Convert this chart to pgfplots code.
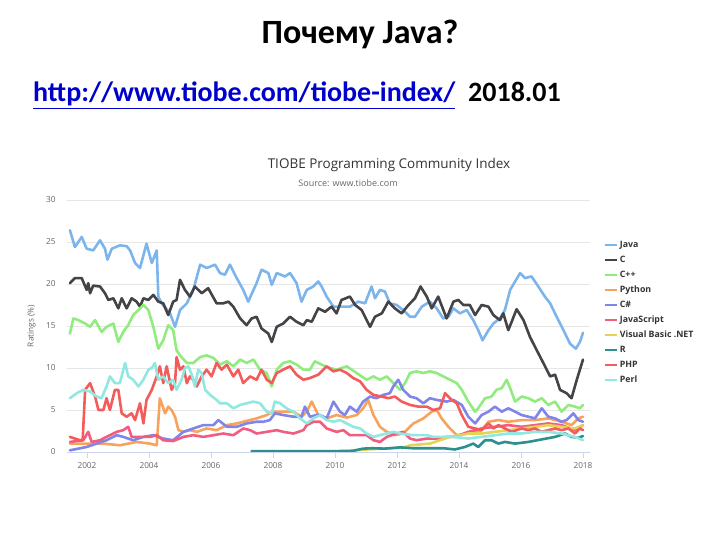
\documentclass[border=0pt]{standalone}
\usepackage{fontspec}
\setmainfont{Carlito}
\newfontfamily\chartfont{Open Sans}
\usepackage{pgfplots}
\pgfplotsset{compat=1.18}

\definecolor{javac}{HTML}{7CB5EC}
\definecolor{cc}{HTML}{434348}
\definecolor{cppc}{HTML}{90ED7D}
\definecolor{pyc}{HTML}{F7A35C}
\definecolor{csc}{HTML}{8085E9}
\definecolor{jsc}{HTML}{F15C80}
\definecolor{vbc}{HTML}{E4D354}
\definecolor{rc}{HTML}{2B908F}
\definecolor{phpc}{HTML}{F45B5B}
\definecolor{perlc}{HTML}{91E8E1}
\definecolor{gridc}{HTML}{E6E6E6}
\definecolor{axisc}{HTML}{CCD6EB}
\definecolor{darktext}{HTML}{333333}
\definecolor{greytext}{HTML}{666666}
\definecolor{linkblue}{HTML}{0000CC}

\begin{document}
\begin{tikzpicture}[x=1pt,y=1pt]
\path[use as bounding box] (0,0) rectangle (720,540);

% slide text
\node[anchor=base, inner sep=0, font=\bfseries\fontsize{34}{40}\selectfont] at (360,496) {Почему Java?};
\node[anchor=base west, inner sep=0, font=\bfseries\fontsize{28}{34}\selectfont, text=linkblue] at (33,438) {\underline{http://www.tiobe.com/tiobe-index/}};
\node[anchor=base west, inner sep=0, font=\bfseries\fontsize{28}{34}\selectfont] at (468,438) {2018.01};

% chart titles
\node[font=\chartfont\fontsize{13.5}{16}\selectfont, text=darktext] at (389,375) {TIOBE Programming Community Index};
\node[font=\chartfont\fontsize{9}{11}\selectfont, text=greytext] at (348,357) {Source: www.tiobe.com};

\begin{axis}[
    at={(67pt,88pt)}, anchor=south west,
    scale only axis, width=523pt, height=252pt,
    xmin=2001.355, xmax=2018.226,
    ymin=0, ymax=30,
    axis x line*=bottom, axis y line*=left,
    x axis line style={draw=axisc, line width=0.8pt, -},
    y axis line style={draw=none},
    xtick={2002,2004,...,2018},
    xticklabels={2002,2004,2006,2008,2010,2012,2014,2016,2018},
    ytick={0,5,...,30},
    yticklabels={0,5,10,15,20,25,30},
    tick align=outside,
    major tick length=6pt,
    xtick style={draw=axisc, line width=0.8pt},
    ytick style={draw=none},
    ymajorgrids,
    grid style={draw=gridc, line width=0.8pt},
    /pgf/number format/assume math mode=true,
    ticklabel style={font=\chartfont\fontsize{8.25}{10}\selectfont, text=greytext},
    xticklabel style={yshift=-1pt},
    yticklabel style={xshift=-2pt},
    ylabel={Ratings (\%)},
    ylabel style={at={(axis description cs:-0.0675,0.5)}, anchor=center,
        font=\chartfont\fontsize{8.25}{10}\selectfont, text=greytext},
    every axis plot/.append style={line width=2.6pt, line join=round, line cap=round, no markers},
    legend cell align=left,
    legend image code/.code={\draw[#1, line cap=butt] (0pt,0pt) -- (12pt,0pt);},
    legend style={at={(1.025,0.845)}, anchor=north west, draw=none, fill=none,
        font=\chartfont\bfseries\fontsize{8.8}{11}\selectfont, text=darktext,
        row sep=3pt, inner sep=0pt},
]

% Java
\addplot[javac] coordinates {
(2001.45,26.4)(2001.61,24.4)(2001.83,25.6)(2001.99,24.2)(2002.20,24.0)(2002.42,25.2)
(2002.58,24.2)(2002.66,22.9)(2002.80,24.2)(2003.06,24.6)(2003.28,24.5)(2003.39,24.0)
(2003.55,22.5)(2003.71,21.9)(2003.92,24.8)(2004.09,22.5)(2004.25,24.0)(2004.30,18.5)
(2004.41,17.7)(2004.68,16.5)(2004.84,14.9)(2005.00,16.9)(2005.22,17.7)(2005.43,19.3)
(2005.65,22.3)(2005.86,21.9)(2006.13,22.3)(2006.29,21.3)(2006.45,21.1)(2006.61,22.3)
(2006.83,20.7)(2007.04,19.3)(2007.20,17.9)(2007.47,20.1)(2007.63,21.7)(2007.85,21.3)
(2007.96,19.9)(2008.12,21.3)(2008.39,20.9)(2008.55,21.3)(2008.76,20.1)(2008.92,17.9)
(2009.09,19.3)(2009.30,19.7)(2009.46,20.3)(2009.57,19.7)(2009.73,18.5)(2009.95,17.3)
(2010.16,17.3)(2010.48,17.3)(2010.75,17.9)(2010.97,17.7)(2011.18,19.7)(2011.29,18.3)
(2011.45,19.3)(2011.61,19.1)(2011.77,17.7)(2011.99,17.5)(2012.20,16.9)(2012.42,16.1)
(2012.58,16.1)(2012.80,17.3)(2013.06,17.9)(2013.28,17.1)(2013.49,15.9)(2013.66,16.1)
(2013.82,17.1)(2014.03,16.5)(2014.25,16.9)(2014.46,15.7)(2014.62,14.5)(2014.76,13.3)
(2014.95,14.5)(2015.11,15.3)(2015.32,15.9)(2015.48,16.9)(2015.65,19.3)(2015.81,20.3)
(2015.97,21.3)(2016.13,20.7)(2016.34,20.9)(2016.56,19.7)(2016.77,18.5)(2016.94,17.7)
(2017.15,16.1)(2017.37,14.5)(2017.58,12.9)(2017.77,12.3)(2017.90,13.1)(2018.00,14.2)
};
\addlegendentry{Java}

% C
\addplot[cc] coordinates {
(2001.45,20.1)(2001.61,20.7)(2001.83,20.7)(2001.99,19.3)(2002.04,20.1)(2002.10,18.9)
(2002.20,19.8)(2002.42,19.7)(2002.58,18.9)(2002.69,18.1)(2002.85,18.3)(2003.01,17.1)
(2003.12,18.3)(2003.28,17.1)(2003.44,18.3)(2003.60,17.9)(2003.71,17.3)(2003.82,18.3)
(2003.98,18.1)(2004.14,18.7)(2004.30,17.9)(2004.46,17.7)(2004.62,16.3)(2004.78,17.9)
(2004.89,18.1)(2005.00,20.5)(2005.16,19.3)(2005.32,18.5)(2005.48,19.7)(2005.70,18.9)
(2005.91,19.5)(2006.18,17.7)(2006.40,17.7)(2006.56,17.9)(2006.72,17.3)(2006.94,15.9)
(2007.15,15.1)(2007.31,15.9)(2007.47,16.1)(2007.63,14.7)(2007.85,14.1)(2007.96,13.1)
(2008.12,14.9)(2008.33,15.3)(2008.55,16.1)(2008.76,15.5)(2008.98,15.1)(2009.09,15.7)
(2009.25,15.5)(2009.46,17.1)(2009.68,16.7)(2009.89,17.3)(2010.05,16.5)(2010.21,18.1)
(2010.48,18.5)(2010.65,17.5)(2010.86,16.9)(2011.13,14.9)(2011.29,16.1)(2011.51,16.5)
(2011.72,17.9)(2011.93,17.1)(2012.15,16.5)(2012.37,17.5)(2012.58,18.3)(2012.76,19.7)
(2012.96,18.5)(2013.12,17.1)(2013.33,18.5)(2013.60,15.9)(2013.82,17.9)(2013.98,18.1)
(2014.14,17.5)(2014.35,17.5)(2014.52,16.3)(2014.73,17.5)(2014.95,17.3)(2015.11,16.3)
(2015.32,15.7)(2015.43,16.5)(2015.59,14.5)(2015.86,17.0)(2016.08,15.7)(2016.29,13.7)
(2016.51,12.1)(2016.72,10.6)(2016.94,9.0)(2017.10,9.2)(2017.26,7.4)(2017.47,7.0)
(2017.63,6.4)(2017.80,8.6)(2018.00,11.0)
};
\addlegendentry{C}

% C++
\addplot[cppc] coordinates {
(2001.45,14.1)(2001.56,15.9)(2001.72,15.7)(2001.94,15.3)(2002.10,14.9)(2002.26,15.7)
(2002.47,14.3)(2002.63,14.9)(2002.85,15.3)(2003.01,13.1)(2003.17,14.3)(2003.33,15.1)
(2003.49,16.3)(2003.66,16.9)(2003.82,17.5)(2003.98,16.9)(2004.14,14.9)(2004.30,12.3)
(2004.46,13.3)(2004.62,15.1)(2004.78,14.5)(2004.89,12.1)(2005.00,11.5)(2005.22,10.6)
(2005.43,10.6)(2005.65,11.3)(2005.86,11.5)(2006.08,11.2)(2006.29,10.4)(2006.51,10.8)
(2006.72,10.2)(2006.94,11.0)(2007.15,10.6)(2007.37,11.0)(2007.58,9.8)(2007.80,9.4)
(2007.96,7.8)(2008.12,9.8)(2008.33,10.6)(2008.55,10.8)(2008.76,10.4)(2008.98,9.8)
(2009.19,9.8)(2009.35,10.8)(2009.57,10.4)(2009.84,10.0)(2010.05,9.8)(2010.38,10.2)
(2010.70,9.4)(2011.02,8.6)(2011.24,9.0)(2011.45,8.6)(2011.67,9.0)(2011.88,8.2)
(2012.10,7.4)(2012.26,8.2)(2012.42,9.4)(2012.63,9.6)(2012.85,9.4)(2013.06,9.6)
(2013.28,9.4)(2013.49,9.0)(2013.71,8.6)(2013.93,8.2)(2014.09,7.4)(2014.30,6.0)
(2014.52,4.8)(2014.62,5.2)(2014.84,6.4)(2015.05,6.6)(2015.21,7.4)(2015.38,7.6)
(2015.54,8.6)(2015.65,7.6)(2015.81,6.0)(2016.02,6.6)(2016.24,6.4)(2016.45,6.0)
(2016.67,6.4)(2016.88,5.6)(2017.10,6.0)(2017.31,4.8)(2017.53,5.6)(2017.74,5.4)
(2017.90,5.2)(2018.00,5.6)
};
\addlegendentry{C++}

% Python
\addplot[pyc] coordinates {
(2001.45,1.0)(2001.99,1.0)(2002.53,1.0)(2003.06,0.8)(2003.60,1.2)(2004.03,1.0)
(2004.25,0.8)(2004.35,6.4)(2004.52,4.6)(2004.62,5.4)(2004.73,5.0)(2004.84,4.2)
(2004.95,2.6)(2005.11,2.4)(2005.32,2.6)(2005.54,2.4)(2005.86,2.8)(2006.18,2.6)
(2006.51,3.2)(2006.83,3.4)(2007.15,3.7)(2007.47,4.0)(2007.80,4.4)(2008.01,4.8)
(2008.33,4.8)(2008.66,4.8)(2008.92,4.2)(2009.09,4.8)(2009.25,6.0)(2009.46,4.4)
(2009.73,4.0)(2010.05,4.4)(2010.38,4.1)(2010.70,4.4)(2010.91,5.2)(2011.07,6.2)
(2011.24,4.4)(2011.45,3.0)(2011.67,2.4)(2011.93,2.0)(2012.20,2.2)(2012.53,3.4)
(2012.85,4.0)(2013.12,4.8)(2013.28,5.0)(2013.44,4.0)(2013.66,3.0)(2013.93,2.0)
(2014.30,2.2)(2014.73,2.6)(2014.95,3.6)(2015.27,3.8)(2015.59,3.6)(2016.02,3.8)
(2016.45,3.8)(2016.88,4.0)(2017.31,3.6)(2017.63,3.2)(2017.85,4.0)(2018.00,4.2)
};
\addlegendentry{Python}

% C#
\addplot[csc] coordinates {
(2001.45,0.2)(2001.99,0.6)(2002.31,1.0)(2002.63,1.4)(2002.96,2.0)(2003.17,1.8)
(2003.49,1.4)(2003.82,1.8)(2004.14,2.0)(2004.46,1.6)(2004.78,1.4)(2005.11,2.4)
(2005.43,2.8)(2005.75,3.2)(2006.08,3.2)(2006.24,3.8)(2006.51,3.0)(2006.83,3.0)
(2007.15,3.4)(2007.47,3.6)(2007.69,3.6)(2007.90,3.8)(2008.06,4.6)(2008.33,4.4)
(2008.66,4.2)(2008.92,4.2)(2009.03,5.4)(2009.19,4.2)(2009.41,4.4)(2009.52,4.4)
(2009.73,4.0)(2009.95,6.0)(2010.16,4.8)(2010.32,4.4)(2010.48,5.4)(2010.70,4.8)
(2010.91,6.0)(2011.13,6.6)(2011.34,6.4)(2011.56,6.8)(2011.77,7.0)(2011.88,7.8)
(2012.04,8.6)(2012.20,7.4)(2012.42,6.6)(2012.63,6.4)(2012.85,5.8)(2013.06,6.4)
(2013.28,6.2)(2013.60,6.0)(2013.82,6.2)(2014.09,5.6)(2014.30,4.2)(2014.52,3.4)
(2014.73,4.4)(2014.95,4.8)(2015.16,5.4)(2015.38,4.8)(2015.59,5.2)(2015.81,4.8)
(2016.02,4.4)(2016.24,4.2)(2016.45,4.0)(2016.67,5.2)(2016.88,4.2)(2017.10,4.0)
(2017.31,3.6)(2017.47,3.8)(2017.69,4.6)(2017.85,3.8)(2018.00,3.6)
};
\addlegendentry{C\#}

% JavaScript
\addplot[jsc] coordinates {
(2001.45,1.2)(2001.88,1.4)(2002.04,2.4)(2002.15,1.2)(2002.42,1.4)(2002.63,1.8)
(2002.96,2.4)(2003.17,2.6)(2003.33,3.0)(2003.44,1.8)(2003.71,1.8)(2004.03,1.8)
(2004.25,2.0)(2004.46,1.4)(2004.78,1.3)(2005.11,1.8)(2005.43,2.0)(2005.75,1.8)
(2006.08,2.0)(2006.40,2.2)(2006.72,2.0)(2007.04,2.8)(2007.26,2.6)(2007.47,2.2)
(2007.80,2.4)(2008.12,2.6)(2008.33,2.4)(2008.66,2.2)(2008.98,2.6)(2009.09,3.2)
(2009.30,3.6)(2009.52,3.6)(2009.73,2.8)(2010.05,2.4)(2010.27,2.6)(2010.48,2.0)
(2010.70,2.0)(2011.02,2.0)(2011.24,1.4)(2011.45,1.2)(2011.67,1.8)(2011.99,2.2)
(2012.20,2.4)(2012.42,1.6)(2012.63,1.4)(2012.96,1.6)(2013.28,1.6)(2013.60,1.8)
(2013.87,1.8)(2014.30,2.4)(2014.73,2.8)(2015.16,3.0)(2015.59,3.2)(2016.02,3.0)
(2016.45,3.2)(2016.88,3.4)(2017.31,3.2)(2017.74,2.6)(2018.00,3.2)
};
\addlegendentry{JavaScript}

% Visual Basic .NET
\addplot[vbc] coordinates {
(2010.60,0.2)(2011.00,0.3)(2011.50,0.4)(2012.20,0.5)(2012.42,0.8)(2012.74,0.9)
(2013.06,1.0)(2013.39,1.4)(2013.71,1.8)(2014.03,2.0)(2014.30,2.2)(2014.73,2.2)
(2015.16,2.4)(2015.59,2.6)(2016.02,2.8)(2016.45,3.0)(2016.88,3.2)(2017.31,3.0)
(2017.74,2.8)(2018.00,3.2)
};
\addlegendentry{Visual Basic .NET}

% R
\addplot[rc] coordinates {
(2007.31,0.1)(2008.00,0.1)(2009.00,0.1)(2010.00,0.1)(2010.60,0.15)(2010.90,0.4)
(2011.20,0.45)(2011.60,0.4)(2012.10,0.55)(2012.50,0.45)(2013.00,0.45)(2013.50,0.45)
(2013.87,0.3)(2014.19,0.6)(2014.46,1.0)(2014.62,0.6)(2014.84,1.4)(2015.05,1.4)
(2015.27,1.0)(2015.48,1.2)(2015.81,1.0)(2016.24,1.2)(2016.67,1.5)(2017.10,1.8)
(2017.42,2.2)(2017.63,1.8)(2017.85,1.7)(2018.00,1.9)
};
\addlegendentry{R}

% PHP
\addplot[phpc] coordinates {
(2001.45,1.8)(2001.77,1.4)(2001.86,1.4)(2001.94,7.4)(2002.10,8.2)(2002.26,6.6)
(2002.37,5.0)(2002.53,5.0)(2002.63,6.4)(2002.74,5.0)(2002.90,7.4)(2003.01,7.4)
(2003.12,4.6)(2003.28,4.2)(2003.44,4.6)(2003.55,3.8)(2003.71,5.8)(2003.82,3.4)
(2003.92,6.2)(2004.09,7.4)(2004.25,9.0)(2004.35,10.2)(2004.46,8.2)(2004.57,10.2)
(2004.73,7.4)(2004.84,8.2)(2004.89,11.3)(2005.00,9.8)(2005.11,10.2)(2005.22,8.2)
(2005.32,9.0)(2005.43,8.6)(2005.54,7.8)(2005.70,9.0)(2005.86,9.8)(2006.02,9.0)
(2006.18,10.6)(2006.34,9.8)(2006.51,10.4)(2006.72,9.0)(2006.88,9.8)(2007.04,8.2)
(2007.26,9.0)(2007.47,8.6)(2007.63,9.8)(2007.80,8.6)(2007.96,8.2)(2008.12,9.4)
(2008.33,9.8)(2008.55,10.2)(2008.76,9.2)(2008.98,8.6)(2009.19,8.8)(2009.46,9.2)
(2009.73,10.2)(2009.95,9.6)(2010.16,9.8)(2010.38,9.4)(2010.59,8.8)(2010.81,8.4)
(2011.02,7.4)(2011.24,6.8)(2011.51,6.6)(2011.72,6.4)(2011.93,6.6)(2012.15,6.0)
(2012.42,5.6)(2012.69,5.4)(2012.96,5.4)(2013.17,5.0)(2013.39,5.2)(2013.55,7.0)
(2013.76,6.2)(2013.93,5.8)(2014.09,4.4)(2014.30,3.0)(2014.52,2.8)(2014.73,2.6)
(2014.95,3.4)(2015.11,2.8)(2015.27,3.2)(2015.48,2.8)(2015.70,2.4)(2016.02,2.8)
(2016.24,2.6)(2016.45,2.8)(2016.67,2.4)(2016.88,2.6)(2017.10,2.8)(2017.31,2.6)
(2017.53,2.8)(2017.74,2.2)(2017.90,2.8)(2018.00,2.6)
};
\addlegendentry{PHP}

% Perl
\addplot[perlc] coordinates {
(2001.45,6.4)(2001.67,7.0)(2001.88,7.4)(2002.10,7.2)(2002.31,6.6)(2002.47,6.4)
(2002.63,7.8)(2002.74,9.0)(2002.90,8.2)(2003.06,8.2)(2003.23,10.6)(2003.33,9.0)
(2003.49,8.6)(2003.66,7.8)(2003.82,8.6)(2003.98,9.8)(2004.09,10.0)(2004.19,10.6)
(2004.30,8.6)(2004.46,9.0)(2004.62,8.2)(2004.78,8.6)(2004.89,7.4)(2005.05,8.6)
(2005.16,10.0)(2005.27,10.2)(2005.38,9.2)(2005.48,7.8)(2005.59,9.8)(2005.70,9.4)
(2005.81,7.4)(2005.97,6.8)(2006.18,6.2)(2006.29,5.8)(2006.51,5.8)(2006.72,5.2)
(2006.94,5.6)(2007.15,5.8)(2007.37,6.0)(2007.58,5.8)(2007.80,4.8)(2007.96,4.6)
(2008.06,6.0)(2008.23,5.8)(2008.44,5.2)(2008.66,4.8)(2008.87,4.0)(2009.09,3.4)
(2009.30,4.0)(2009.52,4.4)(2009.73,3.8)(2009.95,3.6)(2010.16,3.8)(2010.38,3.4)
(2010.59,3.0)(2010.81,2.8)(2011.02,2.2)(2011.24,1.8)(2011.45,2.0)(2011.67,2.2)
(2011.88,2.4)(2012.10,2.2)(2012.53,2.0)(2012.96,2.0)(2013.17,1.8)(2013.82,1.8)
(2014.30,1.6)(2014.73,1.8)(2015.16,2.0)(2015.59,2.2)(2016.02,2.2)(2016.45,2.4)
(2016.88,2.4)(2017.31,2.2)(2017.74,1.8)(2018.00,1.4)
};
\addlegendentry{Perl}

\end{axis}
\end{tikzpicture}
\end{document}
